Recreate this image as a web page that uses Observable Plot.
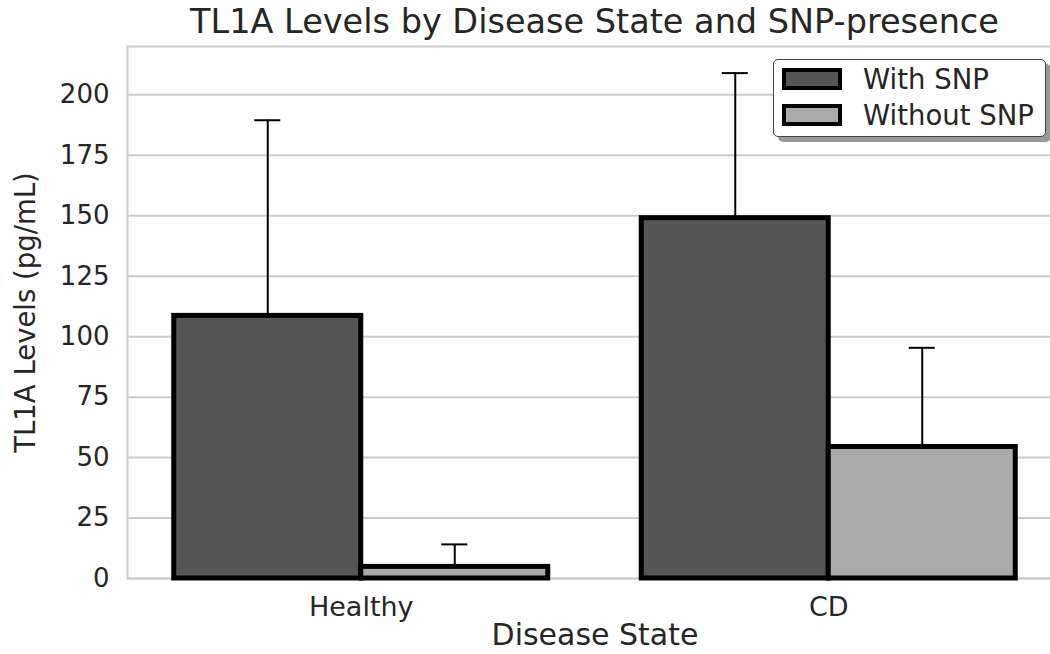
<!DOCTYPE html>
<html>
<head>
<meta charset="utf-8">
<script src="https://cdn.jsdelivr.net/npm/d3@7"></script>
<script src="https://cdn.jsdelivr.net/npm/@observablehq/plot@0.6"></script>
<style>
  html, body { margin: 0; padding: 0; background: #fff; overflow: hidden; }
  #wrap { position: relative; width: 1050px; height: 654px; overflow: hidden;
          font-family: "DejaVu Sans", sans-serif; color: #262626; }
  #title { position: absolute; left: 127px; width: 935px; top: 0; height: 44px;
           line-height: 44px; text-align: center; font-size: 33.5px; white-space: nowrap; }
  #chart { position: absolute; left: 0; top: 44px; width: 1062px; }
  #chart svg { max-width: none !important; }
  #legend { position: absolute; left: 773px; top: 59px; width: 273px; height: 78px;
            box-sizing: border-box; border: 1px solid #444; border-radius: 5px;
            background: #fff; box-shadow: 5px 5px 0 #9a9a9a; }
  .item { position: absolute; left: 8px; height: 22px; display: flex; align-items: center; }
  .sw { width: 60px; height: 22px; box-sizing: border-box; border: 4px solid #000; flex: none; }
  .lab { margin-left: 21px; font-size: 27.5px; white-space: nowrap; line-height: 22px; }
</style>
</head>
<body>
<div id="wrap">
  <div id="title">TL1A Levels by Disease State and SNP-presence</div>
  <div id="chart"></div>
  <div id="legend"></div>
</div>
<script>
// ---- data ----
const categories = ["Healthy", "CD"];
const seriesNames = ["With SNP", "Without SNP"];
const withSNP = [108.6, 149.0];
const withSNPErr = [80.9, 60.0];
const withoutSNP = [4.8, 54.4];
const withoutSNPErr = [9.3, 41.0];
const yTicks = [0, 25, 50, 75, 100, 125, 150, 175, 200];
const colors = ["#555555", "#aaaaaa"];
const title = "TL1A Levels by Disease State and SNP-presence";
const xLabel = "Disease State";
const yLabel = "TL1A Levels (pg/mL)";

// ---- build table (dodged bars like grouped bar chart) ----
const barWidth = 0.4;
const values = [withSNP, withoutSNP];
const errs = [withSNPErr, withoutSNPErr];
const rows = [];
categories.forEach((c, i) => {
  seriesNames.forEach((s, j) => {
    rows.push({
      category: c,
      series: s,
      pos: i + (j - 0.5) * barWidth,
      value: values[j][i],
      err: errs[j][i]
    });
  });
});

const chart = Plot.plot({
  width: 1062,
  height: 610,
  marginLeft: 127,
  marginRight: 0,
  marginTop: 2,
  marginBottom: 76,
  x: { domain: [-0.5, 1.5], axis: null },
  y: { domain: [0, 220], axis: null },
  color: { domain: seriesNames, range: colors },
  style: { fontFamily: "DejaVu Sans", color: "#262626", background: "transparent", maxWidth: "none", overflow: "visible" },
  marks: [
    Plot.gridY(yTicks, { stroke: "#cccccc", strokeOpacity: 1, strokeWidth: 2 }),
    Plot.frame({ stroke: "#cccccc", strokeWidth: 2 }),
    Plot.rectY(rows, {
      x1: d => d.pos - barWidth / 2,
      x2: d => d.pos + barWidth / 2,
      y1: 0,
      y2: "value",
      fill: "series",
      stroke: "black",
      strokeWidth: 5
    }),
    Plot.ruleX(rows, { x: "pos", y1: "value", y2: d => d.value + d.err, stroke: "black", strokeWidth: 2 }),
    Plot.ruleY(rows, { x1: "pos", x2: "pos", y: d => d.value + d.err, insetLeft: -13, insetRight: -13, stroke: "black", strokeWidth: 2 }),
    Plot.axisY(yTicks, { tickSize: 0, tickPadding: 18, fontSize: 26, label: null }),
    Plot.axisX(categories.map((_, i) => i), { tickSize: 0, tickPadding: 18, fontSize: 27, tickFormat: i => categories[i], label: null }),
    Plot.text([yLabel], { text: d => d, frameAnchor: "left", textAnchor: "middle", rotate: -90, dx: -112, lineAnchor: "top", fontSize: 27.5, fill: "#262626" }),
    Plot.text([xLabel], { text: d => d, frameAnchor: "bottom", textAnchor: "middle", dy: 57, lineAnchor: "middle", fontSize: 30, fill: "#262626" })
  ]
});
document.getElementById("chart").appendChild(chart);
document.getElementById("title").textContent = title;

// ---- legend ----
const legend = document.getElementById("legend");
seriesNames.forEach((s, j) => {
  const item = document.createElement("div");
  item.className = "item";
  item.style.top = (8 + j * 36) + "px";
  const sw = document.createElement("div");
  sw.className = "sw";
  sw.style.background = colors[j];
  const lab = document.createElement("span");
  lab.className = "lab";
  lab.textContent = s;
  item.appendChild(sw);
  item.appendChild(lab);
  legend.appendChild(item);
});
</script>
</body>
</html>
